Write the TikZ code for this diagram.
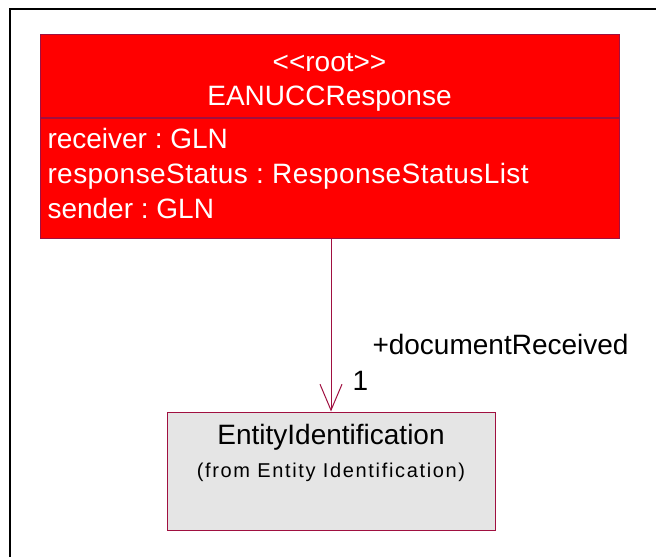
\documentclass[tikz,border=0pt]{standalone}
\usepackage{fontspec}
\setmainfont{Liberation Sans}
\usepackage{tikz}
\usetikzlibrary{arrows.meta, positioning}
\frenchspacing
\definecolor{classred}{RGB}{255,0,0}
\definecolor{umledge}{RGB}{160,16,64}
\definecolor{refgray}{RGB}{229,229,229}
\tikzset{
  umltext/.style = {inner sep=0pt, font=\fontsize{28}{35}\selectfont},
  classbox/.style = {rectangle, draw=umledge, fill=classred,
    minimum width=579pt},
  classtext/.style = {umltext, text=white},
  refclass/.style = {rectangle, draw=umledge, fill=refgray,
    minimum width=328pt, minimum height=118pt},
  pkgtext/.style = {inner sep=0pt,
    font=\fontsize{20}{24}\selectfont\addfontfeature{LetterSpace=8.3}}
}
\begin{document}
\begin{tikzpicture}[x=1pt, y=-1pt, line width=1pt,
  assoc/.style={draw=umledge, -{Straight Barb[length=26pt, width=22pt]}}]
\useasboundingbox (0,0) rectangle (656,557);
% outer frame
\draw[line width=2pt] (9.5,557) -- (9.5,9) -- (656,9);
% root class
\node [classbox, minimum height=83pt] (head) at (329.5,75.5) {};
\node [classbox, minimum height=120pt, below=0pt of head] (attrs) {};
\node [classtext] (stereo) at (329.5,63) {{<}{<}root{>}{>}};
\node [classtext, below=36pt of stereo.center, anchor=center] (cname)
  {EANUCCResponse};
\node [classtext, align=left, anchor=north west] (attrlist) at (47,128)
  {receiver : GLN\\{\addfontfeature{LetterSpace=1.6}responseStatus : ResponseStatusList}\\sender : GLN};
% referenced class
\node [refclass] (ent) at (331,471) {};
\node [umltext] (entname) at (331,437) {EntityIdentification};
\node [pkgtext, below=35pt of entname.center, anchor=center] (entpkg)
  {(from Entity Identification)};
% association
\draw [assoc] (ent.north |- attrs.south) -- (ent.north);
\node [umltext, anchor=west] (role) at ([xshift=41pt, yshift=67pt]ent.north)
  {+documentReceived};
\node [umltext, anchor=west] (mult) at ([xshift=21pt, yshift=31pt]ent.north) {1};
\end{tikzpicture}
\end{document}
